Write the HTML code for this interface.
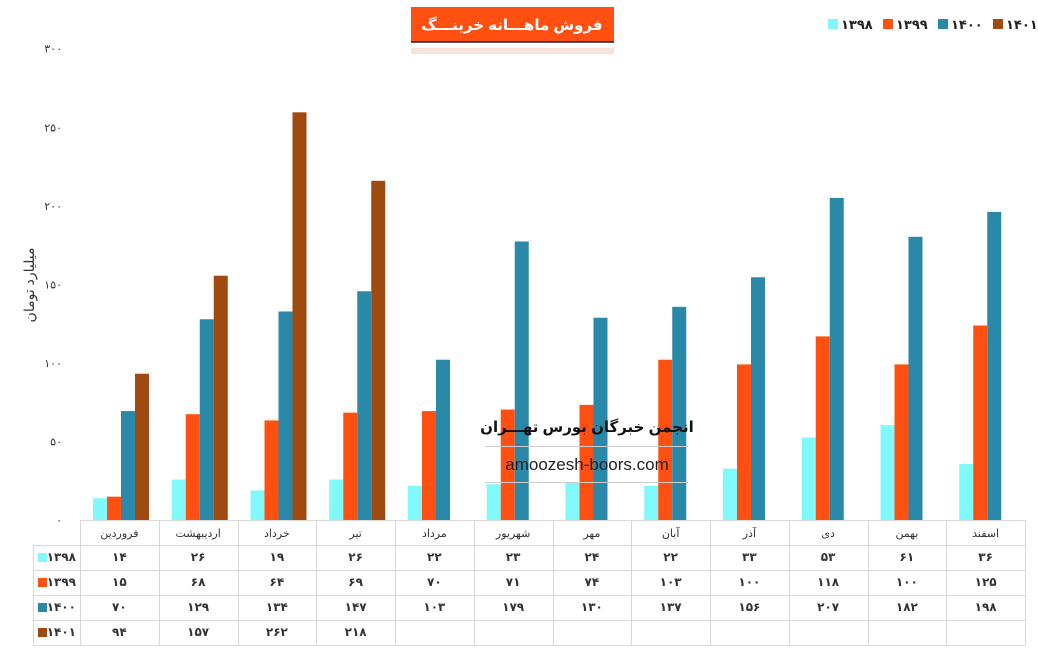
<!DOCTYPE html>
<html><head><meta charset="utf-8"><style>
body{margin:0;background:#fff;width:1038px;height:662px;overflow:hidden;font-family:"Liberation Sans","Noto Sans CJK SC",sans-serif}
</style></head><body>
<svg id="s" width="1038" height="662" xmlns="http://www.w3.org/2000/svg" font-family="'Liberation Sans','DejaVu Sans',sans-serif"></svg>
<script>
const fa=n=>String(n).replace(/\d/g,d=>'۰۱۲۳۴۵۶۷۸۹'[d]);
const cats=['فروردین','اردیبهشت','خرداد','تیر','مرداد','شهریور','مهر','آبان','آذر','دی','بهمن','اسفند'];
const data=[[14,26,19,26,22,23,24,22,33,53,61,36],[15,68,64,69,70,71,74,103,100,118,100,125],[70,129,134,147,103,179,130,137,156,207,182,198],[94,157,262,218]];
const cols=['#7ff9fb','#ff5011','#2a88a8','#9e4a10'];
const yrs=['1398','1399','1400','1401'];
let h='';
const x0=80,cw=78.75,y0=520,k=1.556,kl=1.571;
for(let v=0;v<=300;v+=50)h+=`<text x="62" y="${y0-v*kl+4}" font-size="11" text-anchor="end" fill="#333">${fa(v)}</text>`;
h+=`<text transform="translate(34,285) rotate(-90)" font-size="14" text-anchor="middle" fill="#333">میلیارد تومان</text>`;
for(let s=0;s<4;s++)data[s].forEach((v,i)=>{const x=x0+i*cw+13+s*14;h+=`<rect x="${x}" y="${y0-v*k}" width="14" height="${v*k}" fill="${cols[s]}"/>`;});
const rows=[520,545,570,595,620,645];
const st='stroke="#d9d9d9" stroke-width="1"';
for(let r=0;r<6;r++){const xs=r==0?x0:33;h+=`<line x1="${xs}" y1="${rows[r]+.5}" x2="1025" y2="${rows[r]+.5}" ${st}/>`;}
h+=`<line x1="33.5" y1="545" x2="33.5" y2="645" ${st}/>`;
for(let i=0;i<=12;i++){const x=Math.round(x0+i*cw)+.5;h+=`<line x1="${x}" y1="520" x2="${x}" y2="645" ${st}/>`;}
cats.forEach((c,i)=>h+=`<text x="${x0+i*cw+cw/2}" y="537" font-size="11" text-anchor="middle" fill="#333">${c}</text>`);
for(let s=0;s<4;s++){const y=rows[s+1];h+=`<rect x="38" y="${y+8}" width="9" height="9" fill="${cols[s]}"/><text x="76" y="${y+16}" font-size="12" font-weight="bold" text-anchor="end" fill="#333">${fa(yrs[s])}</text>`;
data[s].forEach((v,i)=>h+=`<text x="${x0+i*cw+cw/2}" y="${y+16}" font-size="12" font-weight="bold" text-anchor="middle" fill="#333">${fa(v)}</text>`);}
h+=`<rect x="411" y="48" width="203" height="6" fill="#f3d0c0" opacity=".6"/><rect x="411" y="7" width="203" height="35" fill="#ff5011"/><line x1="411" y1="42" x2="614" y2="42" stroke="#222" stroke-width="1.5"/>`;
h+=`<text x="512" y="30" font-size="15" font-weight="bold" fill="#fff" text-anchor="middle">فروش ماهـــانه خرینـــگ</text>`;
const lx=[828,883,938,993];
for(let s=0;s<4;s++)h+=`<rect x="${lx[s]}" y="19" width="10" height="10" fill="${cols[s]}"/><text x="${lx[s]+13}" y="29" font-size="13" font-weight="bold" fill="#222">${fa(yrs[s])}</text>`;
h+=`<text x="587" y="432" font-size="15" font-weight="bold" text-anchor="middle" fill="#111">انجمن خبرگان بورس تهـــران</text>`;
h+=`<line x1="485" y1="446.5" x2="688" y2="446.5" stroke="#ccc"/><line x1="485" y1="482.5" x2="688" y2="482.5" stroke="#ccc"/>`;
h+=`<text x="587" y="470" font-size="17" text-anchor="middle" fill="#222">amoozesh-boors.com</text>`;
document.getElementById('s').innerHTML=h;
</script>
</body></html>
